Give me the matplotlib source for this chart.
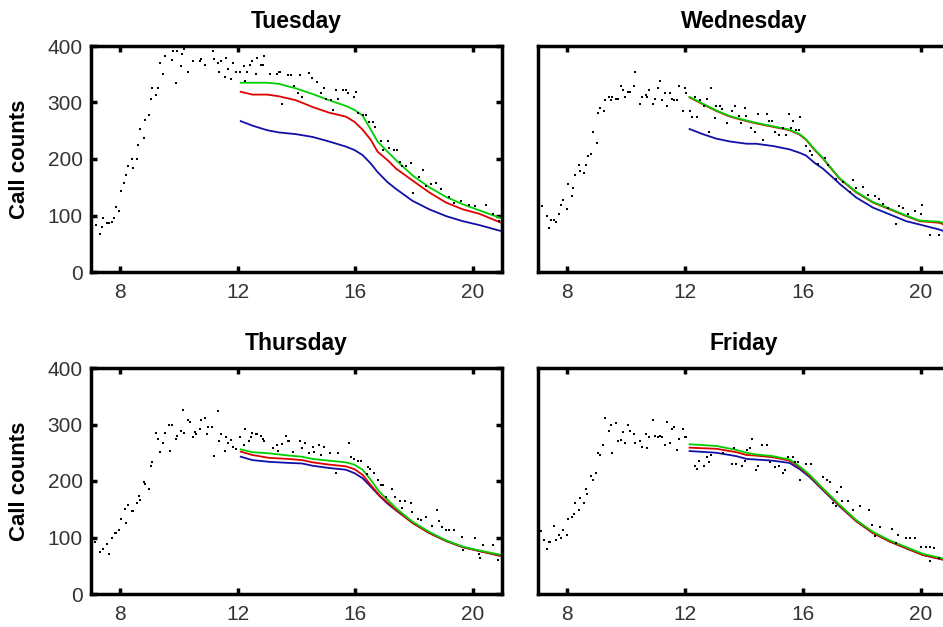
import numpy as np
import matplotlib
matplotlib.use("Agg")
from matplotlib import pyplot as plt

plt.rcParams['font.family'] = ['Liberation Sans', 'DejaVu Sans']

days = ["Tuesday", "Wednesday", "Thursday", "Friday"]

# observed call counts (dots): time of day in hours, counts
tue_t = [7.17, 7.31, 7.38, 7.42, 7.55, 7.6, 7.72, 7.78, 7.85, 7.97, 8.02, 8.14, 8.19, 8.26, 8.38, 8.43,
         8.57, 8.61, 8.68, 8.8, 8.85, 8.98, 9.03, 9.08, 9.22, 9.27, 9.34, 9.45, 9.52, 9.64, 9.75, 9.8,
         9.88, 9.93, 10.05, 10.1, 10.18, 10.3, 10.47, 10.7, 10.76, 10.89, 11.14, 11.2, 11.31, 11.36,
         11.43, 11.55, 11.6, 11.66, 11.78, 11.84, 11.95, 12.08, 12.2, 12.26, 12.31, 12.43, 12.5, 12.61,
         12.67, 12.8, 12.85, 12.9, 13.1, 13.33, 13.39, 13.45, 13.51, 13.7, 13.82, 13.93, 14.05, 14.11,
         14.19, 14.41, 14.52, 14.7, 14.83, 14.94, 15.02, 15.16, 15.25, 15.36, 15.43, 15.57, 15.68,
         15.77, 15.97, 16.02, 16.11, 16.25, 16.36, 16.48, 16.59, 16.66, 16.88, 16.95, 17.1, 17.14,
         17.31, 17.44, 17.53, 17.61, 17.73, 17.9, 17.98, 18.18, 18.3, 18.41, 18.58, 18.75, 18.93,
         19.18, 19.38, 19.6, 19.89, 20.09, 20.45, 20.68, 20.89]
tue_c = [84, 67, 80, 95, 86, 86, 88, 95, 115, 108, 143, 158, 171, 187, 200, 184,
         200, 225, 253, 238, 269, 278, 306, 326, 313, 326, 370, 351, 383, 398, 376, 392,
         335, 392, 364, 385, 395, 354, 373, 374, 377, 367, 392, 377, 370, 354,
         373, 345, 379, 360, 341, 370, 354, 354, 364, 338, 354, 367, 374, 351,
         379, 367, 367, 383, 351, 351, 354, 354, 298, 348, 348, 329, 316, 348,
         309, 352, 344, 336, 317, 325, 306, 305, 286, 322, 307, 323, 323,
         317, 310, 318, 281, 277, 277, 265, 265, 257, 231, 216, 231, 219,
         216, 216, 195, 187, 187, 193, 139, 168, 181, 153, 156, 157, 147,
         133, 123, 126, 118, 117, 119, 102, 90]

wed_t = [7.13, 7.3, 7.36, 7.44, 7.53, 7.61, 7.73, 7.79, 7.85, 7.97, 8.02, 8.14, 8.19, 8.26, 8.39,
         8.44, 8.57, 8.63, 8.7, 8.81, 8.87, 8.99, 9.05, 9.11, 9.23, 9.29, 9.4, 9.47, 9.53, 9.64, 9.71,
         9.82, 9.88, 9.94, 10.06, 10.12, 10.25, 10.3, 10.48, 10.54, 10.67, 10.72, 10.78, 10.91, 10.96,
         11.09, 11.15, 11.2, 11.32, 11.38, 11.5, 11.56, 11.62, 11.74, 11.8, 11.92, 11.98, 12.03, 12.16,
         12.22, 12.33, 12.4, 12.51, 12.64, 12.75, 12.82, 12.88, 13.0, 13.06, 13.17, 13.24, 13.41, 13.6,
         13.71, 13.83, 13.89, 14.02, 14.07, 14.24, 14.36, 14.47, 14.64, 14.78, 14.84, 14.95, 15.07,
         15.18, 15.32, 15.43, 15.52, 15.6, 15.68, 15.75, 15.86, 15.91, 16.11, 16.23, 16.32, 16.51,
         16.74, 16.85, 17.13, 17.36, 17.59, 17.7, 17.81, 18.04, 18.21, 18.44, 18.58, 18.72, 18.89,
         19.17, 19.26, 19.4, 19.57, 19.8, 20.02, 20.06, 20.31, 20.62]
wed_c = [117, 99, 77, 92, 92, 89, 102, 118, 127, 112, 155, 134, 149, 171, 190, 178,
         175, 190, 206, 209, 247, 228, 282, 291, 285, 304, 310, 304, 310, 307, 307, 329,
         323, 310, 319, 319, 329, 354, 298, 310, 313, 310, 323, 298, 307, 326,
         338, 304, 316, 294, 316, 307, 304, 304, 329, 285, 326, 316, 285, 275,
         310, 275, 304, 294, 307, 247, 326, 272, 294, 294, 288, 263, 285, 294,
         276, 263, 291, 276, 255, 247, 279, 234, 279, 268, 267, 247,
         243, 255, 243, 279, 255, 267, 251, 251, 275, 223, 215, 207, 192,
         201, 189, 165, 159, 141, 162, 149, 150, 137, 135, 129, 120, 114,
         85, 117, 114, 102, 108, 102, 119, 65, 65]

thu_t = [7.02, 7.15, 7.32, 7.4, 7.55, 7.61, 7.72, 7.81, 7.85, 7.97, 8.02, 8.15, 8.2, 8.27, 8.38, 8.43,
         8.57, 8.63, 8.68, 8.8, 8.85, 8.98, 9.03, 9.09, 9.22, 9.27, 9.34, 9.44, 9.51, 9.64, 9.69, 9.75,
         9.88, 9.94, 10.06, 10.13, 10.18, 10.3, 10.36, 10.47, 10.53, 10.59, 10.7, 10.76, 10.89, 10.94,
         11.0, 11.12, 11.18, 11.31, 11.36, 11.43, 11.55, 11.6, 11.66, 11.78, 11.84, 11.95, 12.08, 12.2,
         12.26, 12.38, 12.44, 12.5, 12.61, 12.67, 12.8, 12.85, 12.9, 13.2, 13.33, 13.38, 13.51, 13.63,
         13.7, 13.76, 13.87, 14.11, 14.19, 14.3, 14.41, 14.55, 14.61, 14.78, 14.84, 14.95, 15.14,
         15.36, 15.43, 15.8, 15.85, 15.97, 16.08, 16.19, 16.39, 16.45, 16.51, 16.63, 16.76, 16.88,
         16.94, 17.05, 17.27, 17.35, 17.52, 17.61, 17.7, 17.9, 17.95, 18.13, 18.24, 18.41, 18.6,
         18.77, 18.86, 18.95, 19.09, 19.2, 19.35, 19.63, 19.66, 20.09, 20.2, 20.25, 20.34, 20.7, 20.85]
thu_c = [98, 92, 75, 79, 89, 71, 99, 108, 108, 114, 133, 150, 126, 158, 147, 147,
         161, 173, 167, 198, 195, 186, 226, 234, 285, 275, 252, 267, 285, 299, 253, 299,
         274, 280, 289, 325, 285, 308, 305, 277, 286, 283, 292, 308, 311, 283,
         296, 296, 245, 324, 270, 283, 253, 277, 267, 273, 260, 257, 277, 264,
         292, 270, 277, 285, 283, 283, 280, 274, 270, 258, 264, 253, 266, 280,
         270, 270, 251, 271, 258, 267, 249, 261, 252, 264, 246, 261, 249,
         215, 249, 267, 243, 239, 236, 236, 212, 224, 221, 215, 202, 193,
         193, 171, 186, 171, 165, 152, 165, 161, 146, 133, 131, 136, 121,
         149, 130, 118, 114, 114, 114, 101, 77, 99, 71, 64, 86, 86, 61]

fri_t = [7.11, 7.19, 7.3, 7.36, 7.42, 7.53, 7.61, 7.73, 7.79, 7.85, 7.97, 8.02, 8.14, 8.21, 8.26, 8.39,
         8.44, 8.56, 8.63, 8.68, 8.81, 8.87, 8.98, 9.04, 9.09, 9.22, 9.28, 9.4, 9.47, 9.53, 9.64, 9.71,
         9.82, 9.88, 9.94, 10.06, 10.12, 10.25, 10.3, 10.48, 10.54, 10.66, 10.72, 10.78, 10.9, 10.96,
         11.08, 11.13, 11.2, 11.32, 11.38, 11.5, 11.56, 11.62, 11.74, 11.8, 11.92, 11.98, 12.03, 12.34,
         12.4, 12.46, 12.64, 12.75, 12.82, 12.88, 13.3, 13.6, 13.66, 13.72, 13.94, 14.02, 14.1, 14.19,
         14.27, 14.41, 14.48, 14.61, 14.78, 14.89, 15.04, 15.18, 15.32, 15.38, 15.49, 15.66, 15.72,
         15.85, 15.91, 16.09, 16.26, 16.7, 16.82, 16.93, 17.02, 17.11, 17.16, 17.28, 17.34, 17.53,
         17.7, 17.95, 18.24, 18.35, 18.44, 18.61, 19.04, 19.18, 19.23, 19.49, 19.65, 19.8, 20.02,
         20.19, 20.31, 20.33, 20.44, 20.62]
fri_c = [111, 95, 80, 92, 92, 120, 95, 105, 99, 114, 105, 133, 136, 142, 161, 149,
         170, 161, 186, 177, 208, 201, 214, 249, 246, 264, 311, 289, 299, 249, 302, 270,
         273, 286, 268, 299, 289, 283, 268, 270, 261, 283, 258, 277, 308, 280,
         277, 280, 277, 264, 305, 267, 292, 295, 255, 274, 292, 277, 277, 227,
         221, 236, 227, 243, 233, 246, 249, 230, 258, 230, 227, 236, 255, 258,
         274, 220, 227, 264, 264, 233, 224, 227, 214, 220, 242, 242, 233,
         233, 201, 230, 230, 207, 202, 198, 161, 155, 180, 189, 164, 164,
         149, 155, 149, 122, 103, 118, 115, 91, 105, 99, 99, 99, 84,
         84, 84, 59, 81, 64]

# fitted curves (blue, red, green)
tue_ft = [12.1, 12.5, 13.0, 13.4, 13.98, 14.55, 15.11, 15.68, 15.97, 16.25, 16.53, 16.76, 17.1,
          17.39, 17.95, 18.52, 19.09, 19.66, 20.23, 20.93, 21.0]
tue_blue = [267, 259, 251, 247, 244, 239, 231, 222, 216, 207, 192, 177, 159, 147, 126, 111, 99, 90, 83, 73, 72]
tue_red = [319, 314, 314, 311, 304, 292, 282, 275, 266, 252, 234, 213, 198, 183, 162, 141, 123, 111, 103, 88, 87]
tue_green = [335, 335, 335, 333, 325, 315, 304, 294, 287, 277, 252, 231, 213, 198, 171, 150, 133, 120, 109, 96, 95]

wed_ft = [12.15, 12.6, 13.06, 13.52, 14.09, 14.41, 14.98, 15.55, 15.89, 16.11, 16.4, 16.68, 16.96,
          17.25, 17.81, 18.38, 18.95, 19.51, 19.97, 20.65, 21.0]
wed_blue = [253, 244, 236, 231, 227, 227, 223, 217, 211, 206, 193, 183, 170, 156, 132, 114, 102, 90, 84, 75, 68]
wed_red = [309, 297, 285, 275, 267, 263, 257, 251, 243, 234, 216, 201, 183, 165, 141, 123, 111, 99, 90, 87, 80]
wed_green = [310, 298, 286, 276, 268, 264, 258, 252, 244, 235, 217, 202, 184, 166, 142, 124, 112, 100, 91, 89, 83]

thu_ft = [12.1, 12.5, 13.06, 13.74, 14.19, 14.55, 15.11, 15.68, 15.97, 16.25, 16.53, 16.82, 17.1,
          17.39, 17.95, 18.52, 19.09, 19.66, 20.23, 21.0]
thu_blue = [243, 237, 234, 232, 231, 227, 223, 220, 214, 205, 190, 174, 160, 148, 126, 108, 94, 83, 76, 67]
thu_red = [252, 246, 241, 239, 237, 233, 229, 226, 221, 211, 193, 175, 162, 149, 126, 108, 94, 83, 76, 67]
thu_green = [256, 251, 249, 245, 243, 239, 236, 233, 229, 220, 202, 181, 167, 152, 128, 110, 95, 84, 77, 69]

fri_ft = [12.15, 13.06, 13.74, 14.09, 14.41, 14.98, 15.55, 15.89, 16.23, 16.68, 17.25, 17.81,
          18.38, 18.95, 19.51, 20.08, 21.0]
fri_blue = [253, 250, 244, 239, 238, 236, 232, 221, 207, 184, 155, 129, 108, 93, 81, 69, 58]
fri_red = [259, 257, 251, 246, 245, 242, 236, 224, 209, 185, 156, 129, 108, 93, 81, 69, 58]
fri_green = [265, 262, 255, 250, 247, 244, 238, 226, 211, 187, 158, 131, 110, 95, 83, 71, 60]

obs = [(tue_t, tue_c), (wed_t, wed_c), (thu_t, thu_c), (fri_t, fri_c)]
fits = [(tue_ft, tue_blue, tue_red, tue_green), (wed_ft, wed_blue, wed_red, wed_green),
        (thu_ft, thu_blue, thu_red, thu_green), (fri_ft, fri_blue, fri_red, fri_green)]

x_ticks = [8, 12, 16, 20]
y_ticks = [0, 100, 200, 300, 400]

W, H = 943, 627
fig = plt.figure(figsize=(W / 100, H / 100), dpi=100)

# axes boxes in pixels: left, right, top, bottom
boxes = [(91, 502, 46, 272), (538, 950, 46, 272),
         (91, 502, 368, 594), (538, 950, 368, 594)]

for i, day in enumerate(days):
    l, r, top, bot = boxes[i]
    ax = fig.add_axes([l / W, 1 - bot / H, (r - l) / W, (bot - top) / H])
    t, c = obs[i]
    ft, fb, fr, fg = fits[i]
    ax.scatter(t, c, s=3, color='k', marker='s', linewidths=0, zorder=3)
    ax.plot(ft, fb, color='#1010a8', lw=1.3)
    ax.plot(ft, fr, color='#e00000', lw=1.3)
    ax.plot(ft, fg, color='#00d000', lw=1.3)

    ax.set_xlim(7, 21)
    ax.set_ylim(0, 400)
    ax.set_xticks(x_ticks)
    ax.set_yticks(y_ticks)
    for s in ax.spines.values():
        s.set_linewidth(2.5)
    ax.tick_params(direction='in', length=4, width=2.5, top=True, right=True,
                   labelsize=15, labelcolor='#333333')
    ax.tick_params(axis='x', pad=8)
    ax.tick_params(axis='y', pad=6)
    ax.set_title(day, fontsize=16.5, fontweight='bold', pad=13)
    if i % 2 == 0:
        ax.set_ylabel("Call counts", fontsize=16, fontweight='bold')
        ax.yaxis.set_label_coords(-0.148, 0.5)
    else:
        ax.set_yticklabels([])
        ax.tick_params(axis='y', left=False)

plt.savefig("out.png", dpi=100)
